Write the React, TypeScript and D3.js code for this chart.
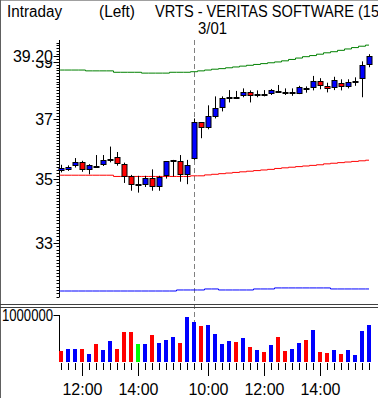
import React from "react";
import * as d3 from "d3";

const TITLE_LEFT = "Intraday";
const TITLE_MID = "(Left)";
const TITLE_MAIN = "VRTS - VERITAS SOFTWARE (15";
const DATE_LABEL = "3/01";
const DAY_BREAK = 19;

const TIMES = ["11:15","11:30","11:45","12:00","12:15","12:30","12:45","13:00","13:15","13:30","13:45","14:00","14:15","14:30","14:45","15:00","15:15","15:30","15:45",
  "9:30","9:45","10:00","10:15","10:30","10:45","11:00","11:15","11:30","11:45","12:00","12:15","12:30","12:45","13:00","13:15","13:30","13:45","14:00","14:15","14:30","14:45","15:00","15:15","15:30","15:45"];

const PREV_CLOSE = 35.40;
const OPEN = [35.30,35.32,35.45,35.55,35.32,35.44,35.49,35.67,35.72,35.50,35.09,34.84,34.84,35.03,34.78,35.13,35.62,35.61,35.16,
  35.70,36.89,36.72,37.11,37.40,37.76,37.75,37.82,37.92,37.87,37.86,37.90,37.97,37.92,37.93,37.90,38.09,38.10,38.31,38.13,38.10,38.24,38.13,38.32,38.42,38.92];
const HIGH = [35.47,35.45,35.69,35.60,35.49,35.79,35.79,36.07,35.89,35.54,35.14,35.11,35.11,35.32,35.11,35.58,35.63,35.79,35.63,
  37.02,36.89,37.47,37.78,37.78,38.00,37.97,38.06,37.99,37.99,38.00,38.04,38.18,38.06,38.06,38.15,38.13,38.50,38.42,38.26,38.47,38.38,38.38,38.45,39.02,39.28];
const LOW = [35.22,35.27,35.38,35.24,35.16,35.43,35.43,35.55,35.44,34.88,34.63,34.57,34.75,34.63,34.63,35.02,35.09,34.92,34.84,
  35.63,36.35,36.65,37.02,37.26,37.57,37.69,37.75,37.57,37.75,37.78,37.83,37.92,37.83,37.80,37.86,37.91,37.99,38.03,37.92,38.00,37.99,38.06,38.15,37.75,38.81];
const CLOSE = [35.37,35.40,35.55,35.32,35.45,35.44,35.62,35.67,35.52,35.11,34.84,34.84,35.03,34.78,35.06,35.58,35.62,35.16,35.45,
  36.89,36.72,37.09,37.38,37.71,37.76,37.75,37.92,37.82,37.87,37.86,37.99,37.97,37.92,37.93,38.10,38.09,38.31,38.17,38.06,38.34,38.13,38.27,38.32,38.88,39.20];
const VOLUME = [230000,270000,270000,270000,160000,380000,250000,440000,270000,640000,640000,380000,380000,570000,400000,460000,530000,400000,960000,
  850000,760000,790000,590000,380000,440000,420000,510000,310000,250000,210000,360000,530000,230000,270000,400000,460000,680000,210000,190000,250000,160000,250000,140000,660000,790000];

const UPPER = [38.71,38.71,38.71,38.71,38.68,38.68,38.68,38.68,38.63,38.63,38.63,38.63,38.60,38.60,38.60,38.60,38.63,38.63,38.63,
  38.65,38.68,38.71,38.74,38.76,38.79,38.82,38.85,38.88,38.91,38.94,38.97,39.00,39.04,39.09,39.14,39.19,39.23,39.28,39.33,39.37,39.42,39.47,39.52,39.57,39.61];
const MIDDLE = [35.13,35.13,35.13,35.13,35.13,35.13,35.13,35.13,35.09,35.09,35.09,35.09,35.09,35.09,35.09,35.09,35.09,35.09,35.09,
  35.11,35.11,35.14,35.16,35.18,35.20,35.22,35.24,35.26,35.28,35.30,35.32,35.35,35.37,35.39,35.41,35.43,35.45,35.47,35.50,35.52,35.54,35.56,35.58,35.60,35.62];
const LOWER = [31.57,31.57,31.57,31.57,31.57,31.57,31.57,31.57,31.57,31.57,31.57,31.57,31.57,31.57,31.57,31.57,31.57,31.60,31.60,
  31.60,31.60,31.63,31.63,31.60,31.60,31.60,31.60,31.60,31.63,31.63,31.63,31.66,31.66,31.66,31.66,31.66,31.66,31.66,31.66,31.63,31.63,31.63,31.63,31.63,31.63];

const PRICE_TICKS = [33, 35, 37, 39];
const VOL_TICK = 1000000;
const VOL_TICK_LABEL = "1000000";

const FONT = "'Liberation Sans', Arial, sans-serif";
const C_UP = "#0000ff";
const C_DOWN = "#ff0000";
const C_FLAT = "#00ff00";

export default function App() {
  const n = TIMES.length;
  const x = d3.scaleLinear().domain([0, n - 1]).range([61, 369]);
  const y = d3.scaleLog().domain([33, 37]).range([243, 119]);
  const yv = d3.scaleLinear().domain([0, VOL_TICK]).range([362, 315]);
  const axisX = 59.5;
  const pTop = 40, pBot = 297;

  const idx = d3.range(n);
  const lineGen = (vals: number[]) => {
    const pts: [number, number][] = idx.map((i) => [x(i), y(vals[i])]);
    pts.unshift([axisX, y(vals[0])]);
    return d3.line().curve(d3.curveStep)(pts) || "";
  };

  const minor: number[] = [];
  for (let k = 300; k <= 410; k++) {
    const p = k / 10;
    const yy = y(p);
    if (yy >= pTop && yy <= pBot) minor.push(p);
  }

  const last = CLOSE[n - 1];
  const lastY = y(last);

  return (
    <svg width={378} height={398} style={{ position: "absolute", left: 0, top: 0, display: "block", background: "#fff" }}
      fontFamily={FONT}>
      <rect x={0} y={0} width={378} height={398} fill="#fff" />
      <line x1={0} x2={378} y1={0.5} y2={0.5} stroke="#a0a0a0" />
      <line x1={0.5} x2={0.5} y1={0} y2={398} stroke="#606060" />

      <text x={7} y={17} fontSize={16} textLength={55} lengthAdjust="spacingAndGlyphs">{TITLE_LEFT}</text>
      <text x={99} y={17} fontSize={16} textLength={36} lengthAdjust="spacingAndGlyphs">{TITLE_MID}</text>
      <text x={155} y={17} fontSize={16} textLength={224} lengthAdjust="spacingAndGlyphs">{TITLE_MAIN}</text>
      <text x={198} y={34} fontSize={16} textLength={29} lengthAdjust="spacingAndGlyphs">{DATE_LABEL}</text>

      {/* day break dashed line */}
      <line x1={Math.round(x(DAY_BREAK)) + 0.5} x2={Math.round(x(DAY_BREAK)) + 0.5} y1={40} y2={362}
        stroke="#808080" strokeDasharray="5,3" />

      {/* price axis */}
      <line x1={axisX} x2={axisX} y1={pTop} y2={pBot} stroke="#000" />
      {minor.map((p) => (
        <line key={"m" + p} x1={axisX - 3} x2={axisX} y1={Math.round(y(p)) + 0.5} y2={Math.round(y(p)) + 0.5} stroke="#000" />
      ))}
      {PRICE_TICKS.map((p) => (
        <g key={"t" + p}>
          <line x1={axisX - 6} x2={axisX} y1={Math.round(y(p)) + 0.5} y2={Math.round(y(p)) + 0.5} stroke="#000" />
          <text x={53} y={y(p)} dy="0.36em" fontSize={16} textAnchor="end">{String(p)}</text>
        </g>
      ))}
      <rect x={14} y={lastY - 7} width={40} height={12} fill="#fff" />
      <line x1={axisX - 6} x2={axisX} y1={Math.round(lastY) + 0.5} y2={Math.round(lastY) + 0.5} stroke="#000" />
      <text x={53} y={lastY} dy="0.36em" fontSize={16} textAnchor="end">{last.toFixed(2)}</text>

      {/* bands */}
      <path d={lineGen(UPPER)} fill="none" stroke="#008000" strokeWidth={1} />
      <path d={lineGen(MIDDLE)} fill="none" stroke="#ff0000" strokeWidth={1} />
      <path d={lineGen(LOWER)} fill="none" stroke="#0000ff" strokeWidth={1} />

      {/* candles */}
      {idx.map((i) => {
        const cx = Math.round(x(i)) + 0.5;
        const o = OPEN[i], c = CLOSE[i];
        const top = Math.round(y(Math.max(o, c)));
        const bot = Math.round(y(Math.min(o, c)));
        const h = Math.max(1, bot - top);
        const fill = c > o ? C_UP : c < o ? C_DOWN : "#000";
        return (
          <g key={"c" + i}>
            <line x1={cx} x2={cx} y1={y(HIGH[i])} y2={y(LOW[i])} stroke="#000" />
            <rect x={cx - 2.5} y={top + 0.5} width={5} height={h} fill={fill} stroke="#000" />
          </g>
        );
      })}

      {/* panel separator */}
      <line x1={0} x2={378} y1={304.5} y2={304.5} stroke="#404040" />
      <line x1={0} x2={378} y1={307.5} y2={307.5} stroke="#404040" />

      {/* volume */}
      <line x1={axisX} x2={axisX} y1={yv(VOL_TICK)} y2={362} stroke="#000" />
      <line x1={axisX - 6} x2={axisX} y1={Math.round(yv(VOL_TICK)) + 0.5} y2={Math.round(yv(VOL_TICK)) + 0.5} stroke="#000" />
      <text x={2} y={yv(VOL_TICK)} dy="0.36em" fontSize={16} textLength={51} lengthAdjust="spacingAndGlyphs">{VOL_TICK_LABEL}</text>
      {idx.map((i) => {
        const prev = i === 0 ? PREV_CLOSE : CLOSE[i - 1];
        const col = CLOSE[i] > prev ? C_UP : CLOSE[i] < prev ? C_DOWN : C_FLAT;
        const top = Math.round(yv(VOLUME[i]));
        return <rect key={"v" + i} x={Math.round(x(i)) - 2} y={top} width={4} height={362 - top} fill={col} />;
      })}

      {/* time axis */}
      {idx.map((i) => {
        const t = TIMES[i];
        const [hh, mm] = t.split(":").map(Number);
        const major = mm === 0 && hh % 2 === 0;
        const cx = Math.round(x(i)) + 0.5;
        return (
          <g key={"x" + i}>
            <line x1={cx} x2={cx} y1={363} y2={major ? 376 : 370} stroke="#000" />
            {major && <text x={cx} y={395} fontSize={16} textAnchor="middle">{t}</text>}
          </g>
        );
      })}
    </svg>
  );
}
